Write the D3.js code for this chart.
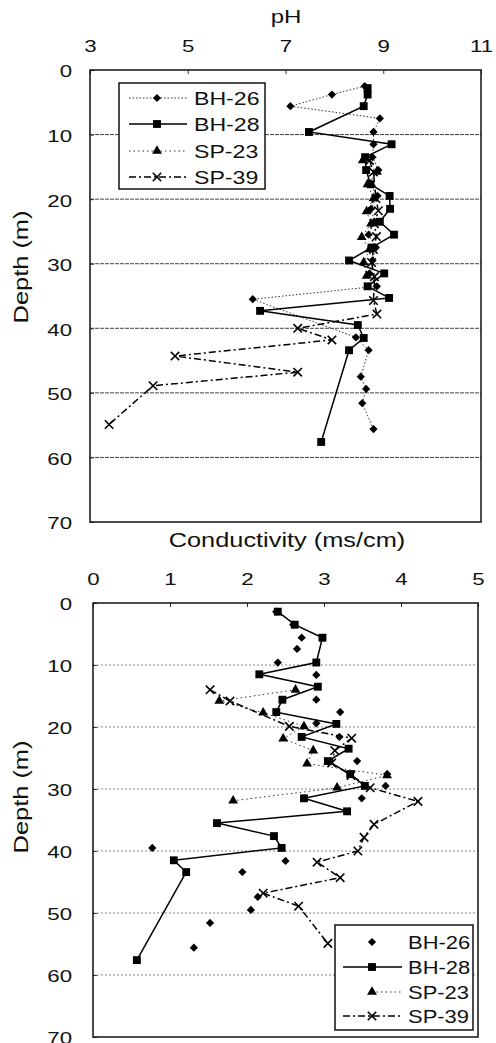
<!DOCTYPE html>
<html>
<head>
<meta charset="utf-8">
<script src="https://cdn.jsdelivr.net/npm/d3@7"></script>
<style>
  body { margin: 0; background: #fff; }
  svg { display: block; font-family: "Liberation Sans", Arial, sans-serif; }
</style>
</head>
<body>
<div id="chart"></div>
<script>
// ---- data ----
const seriesNames = ["BH-26", "BH-28", "SP-23", "SP-39"];
const phTicks = [3, 5, 7, 9, 11];
const condTicks = [0, 1, 2, 3, 4, 5];
const depthTicks = [0, 10, 20, 30, 40, 50, 60, 70];

// pH panel
const phBH26Depth = [2.5, 3.8, 5.6, 7.5, 9.6, 11.5, 13.5, 15.5, 17.5, 19.5, 21.5, 23.5, 25.5, 27.5, 29.5, 31.5, 33.5, 35.5, 41.4, 43.4, 47.5, 49.4, 51.6, 55.6];
const phBH26 = [8.62, 7.95, 7.1, 8.93, 8.8, 8.8, 8.78, 8.9, 8.72, 8.88, 8.75, 8.82, 8.7, 8.85, 8.78, 8.72, 8.87, 6.33, 8.44, 8.7, 8.54, 8.65, 8.57, 8.8];
const phBH28Depth = [2.8, 3.8, 5.6, 9.6, 11.5, 13.5, 15.5, 17.7, 19.5, 21.5, 23.5, 25.5, 27.5, 29.5, 31.5, 33.5, 35.3, 37.3, 39.5, 41.5, 43.4, 57.6];
const phBH28 = [8.68, 8.68, 8.6, 7.48, 9.17, 8.63, 8.65, 8.74, 9.13, 9.14, 8.93, 9.22, 8.76, 8.3, 9.02, 8.68, 9.12, 6.48, 8.48, 8.6, 8.3, 7.73];
const sp23Depth = [14, 15.8, 17.7, 19.9, 21.9, 23.8, 25.9, 27.8, 29.8, 31.9];
const phSP23 = [8.58, 8.87, 8.68, 8.8, 8.66, 8.75, 8.56, 8.72, 8.6, 8.66];
const sp39Depth = [14, 15.8, 19.9, 21.8, 23.8, 25.8, 27.8, 29.8, 32, 35.7, 37.8, 40, 41.8, 44.3, 46.8, 48.9, 54.9];
const phSP39 = [8.72, 8.8, 8.85, 8.9, 8.82, 8.86, 8.8, 8.76, 8.82, 8.8, 8.87, 7.25, 7.95, 4.74, 7.25, 4.29, 3.39];

// conductivity panel
const condBH26Depth = [1.4, 3.5, 5.6, 7.4, 9.6, 11.6, 15.6, 17.6, 19.4, 21.6, 25.5, 27.6, 29.5, 31.5, 39.5, 41.6, 43.4, 47.4, 49.5, 51.6, 55.6];
const condBH26 = [2.38, 2.6, 2.71, 2.65, 2.4, 2.9, 2.9, 3.21, 2.9, 3.2, 3.43, 3.82, 3.8, 3.49, 0.77, 2.5, 1.94, 2.14, 2.05, 1.52, 1.31];
const condBH28Depth = [1.4, 3.5, 5.6, 9.6, 11.5, 13.5, 15.6, 17.6, 19.5, 21.6, 23.5, 25.5, 27.6, 29.5, 31.5, 33.6, 35.5, 37.6, 39.5, 41.5, 43.4, 57.6];
const condBH28 = [2.4, 2.62, 2.98, 2.9, 2.16, 2.92, 2.46, 2.38, 3.16, 2.71, 3.32, 3.05, 3.34, 3.53, 2.74, 3.3, 1.61, 2.35, 2.45, 1.05, 1.21, 0.57];
const condSP23 = [2.63, 1.64, 2.21, 2.74, 2.47, 2.86, 2.78, 3.82, 3.17, 1.82];
const condSP39 = [1.52, 1.78, 2.55, 3.36, 3.14, 3.1, 3.35, 3.6, 4.22, 3.65, 3.52, 3.44, 2.91, 3.21, 2.21, 2.67, 3.05];

const zip = (depths, vals) => depths.map((d, i) => ({depth: d, value: vals[i]}));

// ---- styles per series ----
const styles = {
    "BH-26": {symbol: "diamond", dash: "1.5,2", width: 1, color: "#333"},
    "BH-28": {symbol: "square", dash: null, width: 1.5, color: "#000"},
    "SP-23": {symbol: "triangle", dash: "1.5,3", width: 1, color: "#333"},
    "SP-39": {symbol: "times", dash: "7,3,2,3", width: 1.5, color: "#000"}
};

const W = 496, H = 1043;
const svg = d3.select("#chart").append("svg")
    .attr("width", W)
    .attr("height", H);

svg.append("rect").attr("width", W).attr("height", H).attr("fill", "#fff");

const symbolPath = name => {
    if (name === "diamond") return d3.symbol(d3.symbolSquare, 34)();
    if (name === "square") return d3.symbol(d3.symbolSquare, 62)();
    if (name === "triangle") return d3.symbol(d3.symbolTriangle, 42)();
    return d3.symbol(d3.symbolTimes, 48)();
};

const drawMarker = (g, name, x, y) => {
    const p = g.append("path")
        .attr("d", symbolPath(name))
        .attr("transform", `translate(${x},${y})` + (name === "diamond" ? " rotate(45)" : ""));
    if (name === "times") {
        p.attr("fill", "none").attr("stroke", "#000").attr("stroke-width", 1.6);
    } else {
        p.attr("fill", "#000");
    }
};

// text stretched horizontally like the scanned original
const label = (g, str, x, y, size, sx, anchor, rotate) => {
    g.append("text")
        .attr("transform", `translate(${x},${y})` + (rotate ? ` rotate(${rotate})` : "") + ` scale(${sx},1)`)
        .attr("text-anchor", anchor)
        .style("font-size", size + "px")
        .attr("fill", "#111")
        .text(str);
};

const drawPanel = (cfg) => {
    const g = svg.append("g");
    const x = d3.scaleLinear().domain(cfg.xDomain).range([cfg.left, cfg.right]);
    const y = d3.scaleLinear().domain([0, 70]).range([cfg.top, cfg.bottom]);

    // gridlines
    g.append("g").selectAll("line")
        .data(depthTicks.filter(d => d > 0 && d < 70))
        .join("line")
        .attr("x1", cfg.left).attr("x2", cfg.right)
        .attr("y1", d => y(d)).attr("y2", d => y(d))
        .attr("stroke", cfg.gridColor)
        .attr("stroke-width", cfg.gridWidth)
        .attr("stroke-dasharray", cfg.gridDash);

    // top axis
    const xAxis = g.append("g")
        .attr("transform", `translate(0,${cfg.top})`)
        .call(d3.axisTop(x).tickValues(cfg.xTicks).tickFormat(d3.format("d"))
            .tickSizeInner(-4).tickSizeOuter(0).tickPadding(18));
    // left axis
    const yAxis = g.append("g")
        .attr("transform", `translate(${cfg.left},0)`)
        .call(d3.axisLeft(y).tickValues(depthTicks).tickFormat(d3.format("d"))
            .tickSizeInner(-4).tickSizeOuter(0).tickPadding(cfg.yPad));
    [xAxis, yAxis].forEach(a => {
        a.select(".domain").remove();
        a.selectAll("line").attr("stroke", "#333");
        a.selectAll("text")
            .attr("transform", "scale(1.35,1)")
            .attr("fill", "#111")
            .style("font-size", "16.5px")
            .style("font-family", "\"Liberation Sans\", Arial, sans-serif");
    });
    yAxis.selectAll("text").attr("dy", "0.42em");

    // series
    cfg.series.forEach(s => {
        const st = styles[s.name];
        if (s.line) {
            g.append("path")
                .datum(s.data)
                .attr("fill", "none")
                .attr("stroke", st.color)
                .attr("stroke-width", st.width)
                .attr("stroke-dasharray", st.dash)
                .attr("d", d3.line().x(d => x(d.value)).y(d => y(d.depth)));
        }
    });
    cfg.series.forEach(s => {
        const st = styles[s.name];
        s.data.forEach(d => drawMarker(g, st.symbol, x(d.value), y(d.depth)));
    });

    // frame
    g.append("rect")
        .attr("x", cfg.left).attr("y", cfg.top)
        .attr("width", cfg.right - cfg.left).attr("height", cfg.bottom - cfg.top)
        .attr("fill", "none").attr("stroke", "#111").attr("stroke-width", 1.5);

    // titles
    label(g, cfg.title, cfg.titleX, cfg.titleY, cfg.titleSize, 1.3, "middle");
    label(g, "Depth (m)", 28, cfg.depthLabelY, 20, 1.27, "middle", -90);

    // legend
    const L = cfg.legend;
    const lg = g.append("g");
    lg.append("rect")
        .attr("x", L.x).attr("y", L.y).attr("width", L.w).attr("height", L.h)
        .attr("fill", "#fff").attr("stroke", "#111").attr("stroke-width", 1.5);
    cfg.series.forEach((s, i) => {
        const st = styles[s.name];
        const yy = L.rows[i];
        const lineFrom = s.legendLine === "right" ? L.mark : L.lineX1;
        if (s.legendLine) {
            lg.append("line")
                .attr("x1", lineFrom).attr("x2", L.lineX2)
                .attr("y1", yy).attr("y2", yy)
                .attr("stroke", st.color)
                .attr("stroke-width", st.width)
                .attr("stroke-dasharray", st.dash);
        }
        drawMarker(lg, st.symbol, L.mark, yy);
        label(lg, s.name, L.textX, yy + 6.5, L.size, L.sx, "start");
    });
};

drawPanel({
    xDomain: [3, 11], xTicks: phTicks,
    left: 90, right: 481, top: 70, bottom: 522, yPad: 13.3,
    gridColor: "#444", gridWidth: 1, gridDash: "4,1",
    title: "pH", titleX: 286, titleY: 23, titleSize: 18.5,
    depthLabelY: 267,
    series: [
        {name: "BH-26", data: zip(phBH26Depth, phBH26), line: true, legendLine: "both"},
        {name: "BH-28", data: zip(phBH28Depth, phBH28), line: true, legendLine: "both"},
        {name: "SP-23", data: zip(sp23Depth, phSP23), line: true, legendLine: "both"},
        {name: "SP-39", data: zip(sp39Depth, phSP39), line: true, legendLine: "both"}
    ],
    legend: {x: 119, y: 83, w: 146, h: 106, rows: [98, 124, 151, 177],
             lineX1: 129, lineX2: 187, mark: 157, textX: 194, size: 18.5, sx: 1.25}
});

drawPanel({
    xDomain: [0, 5], xTicks: condTicks,
    left: 93, right: 478, top: 603, bottom: 1037, yPad: 15.5,
    gridColor: "#666", gridWidth: 0.8, gridDash: "2,2",
    title: "Conductivity (ms/cm)", titleX: 287, titleY: 547, titleSize: 19.5,
    depthLabelY: 797,
    series: [
        {name: "BH-26", data: zip(condBH26Depth, condBH26), line: false, legendLine: null},
        {name: "BH-28", data: zip(condBH28Depth, condBH28), line: true, legendLine: "both"},
        {name: "SP-23", data: zip(sp23Depth, condSP23), line: true, legendLine: "right"},
        {name: "SP-39", data: zip(sp39Depth, condSP39), line: true, legendLine: "both"}
    ],
    legend: {x: 335, y: 925, w: 138, h: 105, rows: [942, 967, 992, 1016],
             lineX1: 343, lineX2: 402, mark: 372, textX: 408, size: 18, sx: 1.22}
});
</script>
</body>
</html>
